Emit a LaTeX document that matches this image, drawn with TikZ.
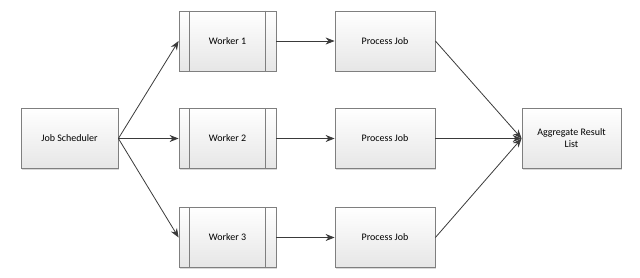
\documentclass[tikz,border=0pt]{standalone}
\usepackage{fontspec}
\setmainfont{Carlito}
\usetikzlibrary{arrows.meta,shadows,calc}
\definecolor{boxline}{HTML}{7F7F7F}
\definecolor{boxbot}{HTML}{E6E6E6}
\definecolor{arrowcol}{HTML}{3A3A3A}
\tikzset{
  box/.style={draw=boxline, line width=0.8pt, top color=white, bottom color=boxbot,
    minimum width=97pt, minimum height=60pt, inner sep=0pt, align=center,
    font=\fontsize{10}{12}\selectfont,
    drop shadow={shadow xshift=1pt, shadow yshift=-1pt, fill=black!25, opacity=0.6}},
  sub/.style={box},
  conn/.style={draw=arrowcol, line width=0.8pt, -{Stealth[length=9pt,width=7pt]}}
}
\begin{document}
\begin{tikzpicture}[x=1pt,y=-1pt]
\useasboundingbox (0,0) rectangle (640,277);
\node[box] (sched) at (69.5,138.5) {Job Scheduler};
\node[sub] (w1) at (227.5,41) {Worker 1};
\node[sub] (w2) at (227.5,138.5) {Worker 2};
\node[sub] (w3) at (227.5,237.5) {Worker 3};
\foreach \w in {w1,w2,w3}{
  \draw[boxline, line width=0.8pt] ($(\w.north west)+(11,0)$) -- ($(\w.south west)+(11,0)$);
  \draw[boxline, line width=0.8pt] ($(\w.north east)+(-11,0)$) -- ($(\w.south east)+(-11,0)$);
}
\node[box, minimum width=100pt] (p1) at (385,41) {Process Job};
\node[box, minimum width=100pt] (p2) at (385,138.5) {Process Job};
\node[box, minimum width=100pt] (p3) at (385,237.5) {Process Job};
\node[box, minimum width=99pt] (agg) at (571.5,138.5) {Aggregate Result\\List};
\draw[conn] (sched.east) -- (w1.west);
\draw[conn] (sched.east) -- (w2.west);
\draw[conn] (sched.east) -- (w3.west);
\draw[conn] (w1.east) -- (p1.west);
\draw[conn] (w2.east) -- (p2.west);
\draw[conn] (w3.east) -- (p3.west);
\draw[conn] (p1.east) -- (agg.west);
\draw[conn] (p2.east) -- (agg.west);
\draw[conn] (p3.east) -- (agg.west);
\end{tikzpicture}
\end{document}
